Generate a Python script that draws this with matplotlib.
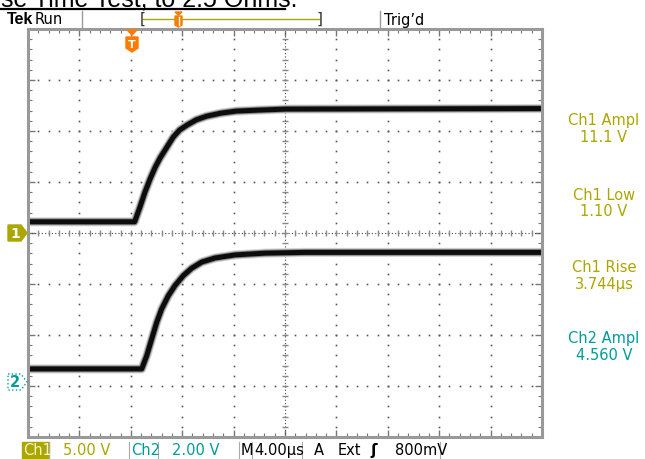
import matplotlib.pyplot as plt
import numpy as np
from matplotlib.patches import Polygon, Rectangle

# time in microseconds from left edge of screen (4 us/div, 10 div)
ch1_t = [0, 8.3, 8.7, 9.1, 9.5, 9.9, 10.3, 10.8, 11.3, 11.8, 12.4, 13.1, 13.9,
         15.0, 16.2, 18.0, 20.1, 40]
ch1_v = [1.1, 1.1, 2.5, 4.0, 5.3, 6.45, 7.4, 8.4, 9.4, 10.1, 10.6, 11.1, 11.45,
         11.75, 11.95, 12.05, 12.15, 12.2]

ch2_t = [0, 8.85, 9.24, 9.63, 10.02, 10.40, 10.92, 11.44, 12.09, 12.74, 13.52,
         14.55, 16.11, 18.44, 21.56, 40]
ch2_v = [0.51, 0.51, 1.03, 1.69, 2.34, 2.86, 3.38, 3.78, 4.17, 4.46, 4.70,
         4.86, 4.98, 5.05, 5.08, 5.08]

ch1_scale = 5.0   # V/div
ch2_scale = 2.0
ch1_gnd = 0.0     # divisions
ch2_gnd = -2.92

meas_labels = ["Ch1 Ampl", "Ch1 Low", "Ch1 Rise", "Ch2 Ampl"]
meas_values = ["11.1 V", "1.10 V", "3.744\u00b5s", "4.560 V"]

OLIVE = "#aca600"
TEAL = "#009c9c"
ORANGE = "#ff7a00"
W, H = 645, 460


def fp(x, y):
    return (x / W, 1 - y / H)


fig = plt.figure(figsize=(6.45, 4.6), dpi=100)
ax = fig.add_axes([28 / W, 22 / H, 514 / W, 408 / H])
ax.set_xlim(0, 40)
ax.set_ylim(-4, 4)

# graticule
dots_y = np.arange(-4, 4.01, 0.2)
dots_x = np.arange(0, 40.01, 0.8)
for gx in range(4, 40, 4):
    if gx == 20:
        continue
    ax.plot([gx] * len(dots_y), dots_y, ls="none", marker="s", ms=1.2,
            color="#555555", mew=0)
for gy in range(-3, 4):
    if gy == 0:
        continue
    ax.plot(dots_x, [gy] * len(dots_x), ls="none", marker="s", ms=1.2,
            color="#555555", mew=0)
ax.axhline(0, color="#444444", lw=0.8, ls=(0, (1, 2)))
ax.axvline(20, color="#444444", lw=0.8, ls=(0, (1, 2)))
ax.plot(dots_x, [0] * len(dots_x), ls="none", marker="|", ms=5, color="#888888")
ax.plot([20] * len(dots_y), dots_y, ls="none", marker="_", ms=5, color="#888888")

for s in ax.spines.values():
    s.set_color("#999999")
    s.set_linewidth(2.2)
ax.set_xticks(np.arange(0, 40.01, 4))
ax.set_yticks(np.arange(-4, 4.01, 1))
ax.set_xticks(dots_x, minor=True)
ax.set_yticks(dots_y, minor=True)
ax.tick_params(which="both", direction="in", top=True, right=True,
               labelbottom=False, labelleft=False, color="#777777")
ax.tick_params(which="major", length=5, width=1)
ax.tick_params(which="minor", length=3, width=0.8)

# traces
y1 = [v / ch1_scale + ch1_gnd for v in ch1_v]
y2 = [v / ch2_scale + ch2_gnd for v in ch2_v]
for t, y in ((ch1_t, y1), (ch2_t, y2)):
    ax.plot(t, y, color="#d4d4d4", lw=6.5, solid_capstyle="butt",
            solid_joinstyle="round")
    ax.plot(t, y, color="#8a8a8a", lw=5.0, solid_capstyle="butt",
            solid_joinstyle="round")
    ax.plot(t, y, color="#0d0d0d", lw=3.6, solid_capstyle="butt",
            solid_joinstyle="round")

# trigger marker
fig.patches.append(Polygon([fp(127, 31), fp(137, 31), fp(132, 36)],
                           closed=True, color=ORANGE, transform=fig.transFigure))
fig.patches.append(Polygon([fp(126, 38), fp(138, 38), fp(138, 49), fp(132, 53),
                            fp(126, 49)], closed=True, color=ORANGE,
                           transform=fig.transFigure))
fig.text(*fp(132, 45), "T", color="white", fontsize=8, fontweight="bold",
         ha="center", va="center")

# ground markers
fig.patches.append(Polygon([fp(8, 226), fp(21, 226), fp(27, 234), fp(21, 242),
                            fp(8, 242)], closed=True, color=OLIVE,
                           transform=fig.transFigure))
fig.text(*fp(15, 234), "1", color="white", fontsize=10, fontweight="bold",
         ha="center", va="center")
fig.patches.append(Polygon([fp(8, 375), fp(21, 375), fp(27, 383), fp(21, 391),
                            fp(8, 391)], closed=True, facecolor="white",
                           edgecolor=TEAL, lw=1, ls=":",
                           transform=fig.transFigure))
fig.text(*fp(15, 383), "2", color=TEAL, fontsize=10.5, fontweight="bold",
         ha="center", va="center")

# measurements
meas_y = [120, 194, 266, 338]
meas_col = [OLIVE, OLIVE, OLIVE, TEAL]
for lab, val, y, c in zip(meas_labels, meas_values, meas_y, meas_col):
    fig.text(*fp(604, y + 1), lab, color=c, fontsize=10.5, ha="center",
             va="center")
    fig.text(*fp(604, y + 18), val, color=c, fontsize=10.5, ha="center",
             va="center")

# header
fig.text(*fp(1, 7), "se Time Test, to 2.5 Ohms.", fontsize=18,
         family="Liberation Sans", va="baseline", ha="left")
fig.add_artist(plt.Line2D([0, 285 / W], [1 - 9.5 / H] * 2, color="black",
                          lw=1.6, transform=fig.transFigure))
fig.text(*fp(7, 20), "Tek", fontsize=11.5, fontweight="bold", va="center",
         family="Liberation Sans")
fig.text(*fp(35, 20), "Run", fontsize=10.5, va="center")
fig.text(*fp(384, 20), "Trig\u2019d", fontsize=10.5, va="center")
for sx in (82, 380):
    fig.add_artist(plt.Line2D([sx / W] * 2, [1 - 12 / H, 1 - 28 / H],
                              color="#999999", lw=1,
                              transform=fig.transFigure))
fig.text(*fp(140, 19), "[", fontsize=11, va="center", color="#333333")
fig.text(*fp(317, 19), "]", fontsize=11, va="center", color="#333333")
fig.add_artist(plt.Line2D([143 / W, 319 / W], [1 - 20 / H] * 2, color=OLIVE,
                          lw=1, transform=fig.transFigure))
fig.patches.append(Polygon([fp(175, 13), fp(182, 13), fp(178.5, 16)],
                           closed=True, color=ORANGE, transform=fig.transFigure))
fig.patches.append(Polygon([fp(175, 17), fp(182, 17), fp(182, 26), fp(178.5, 28),
                            fp(175, 26)], closed=True, color=ORANGE,
                           transform=fig.transFigure))
fig.add_artist(plt.Line2D([178.5 / W] * 2, [1 - 18 / H, 1 - 26 / H],
                          color="white", lw=1, transform=fig.transFigure))

# bottom status bar
yb = 451
fig.patches.append(Rectangle(fp(22, 459), 27 / W, 16 / H, color=OLIVE,
                             transform=fig.transFigure))
fig.text(*fp(23, yb), "Ch1", color="#f4f4c8", fontsize=10.5, va="center")
fig.text(*fp(63, yb), "5.00 V", color=OLIVE, fontsize=10.5, va="center")
fig.text(*fp(131, yb), "Ch2", color=TEAL, fontsize=10.5, va="center")
fig.text(*fp(172, yb), "2.00 V", color=TEAL, fontsize=10.5, va="center")
fig.text(*fp(241, yb), "M", fontsize=10.5, va="center")
fig.text(*fp(254, yb), "4.00\u00b5s", fontsize=10.5, va="center")
fig.text(*fp(314, yb), "A", fontsize=10.5, va="center")
fig.text(*fp(338, yb), "Ext", fontsize=10.5, va="center")
fig.text(*fp(370, yb), "\u0283", fontsize=11, va="center", fontweight="bold")
fig.text(*fp(395, yb), "800mV", fontsize=10.5, va="center")
for sx in (49, 129, 158, 239, 252, 302, 440):
    fig.add_artist(plt.Line2D([sx / W] * 2, [1 - 443 / H, 1 - 459 / H],
                              color="#aaaaaa", lw=0.8,
                              transform=fig.transFigure))

fig.savefig("out.png", dpi=100)
